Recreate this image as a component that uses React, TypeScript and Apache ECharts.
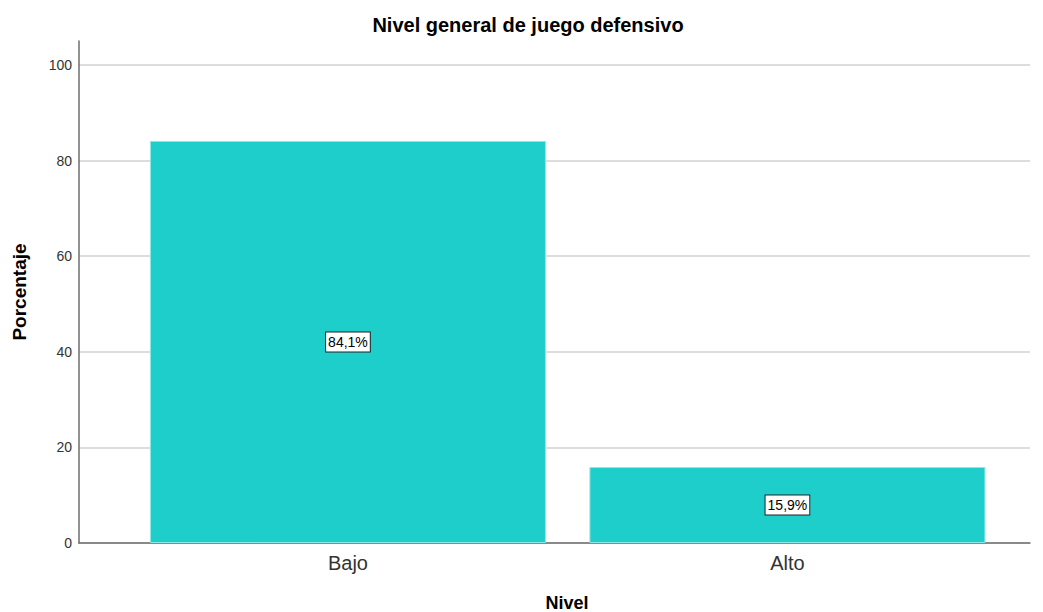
import React, { useEffect, useRef } from "react";
import * as echarts from "echarts";

const categories = ["Bajo", "Alto"];
const values = [84.1, 15.9];
const titleText = "Nivel general de juego defensivo";
const xTitle = "Nivel";
const yTitle = "Porcentaje";

const FONT = "'Liberation Sans', Arial, sans-serif";

export default function App() {
  const ref = useRef<HTMLDivElement>(null);
  useEffect(() => {
    if (!ref.current) return;
    const chart = echarts.init(ref.current, undefined, { renderer: "svg" });
    chart.setOption({
      animation: false,
      backgroundColor: "#ffffff",
      textStyle: { fontFamily: FONT },
      title: [
        {
          text: titleText,
          left: 528,
          top: 15,
          padding: 0,
          textAlign: "center",
          textStyle: { fontFamily: FONT, fontSize: 20, fontWeight: "bold", color: "#000" },
        },
        {
          text: xTitle,
          left: 567,
          top: 594,
          padding: 0,
          textAlign: "center",
          textStyle: { fontFamily: FONT, fontSize: 18, fontWeight: "bold", color: "#000" },
        },
      ],
      grid: { left: 79, top: 41, width: 951, height: 502, containLabel: false },
      xAxis: {
        type: "value",
        min: -0.612,
        max: 1.552,
        axisLine: { show: true, onZero: false, lineStyle: { color: "#6e6e6e", width: 1.5 } },
        axisTick: { show: false },
        splitLine: { show: false },
        axisLabel: {
          customValues: categories.map((_, i) => i),
          formatter: (v: number) => categories[Math.round(v)] ?? "",
          fontSize: 20,
          color: "#333",
          margin: 10,
          fontFamily: FONT,
        },
      },
      yAxis: {
        type: "value",
        min: 0,
        max: 105,
        interval: 20,
        name: yTitle,
        nameLocation: "middle",
        nameGap: 50,
        nameTextStyle: { fontFamily: FONT, fontSize: 19, fontWeight: "bold", color: "#000" },
        axisLine: { show: true, onZero: false, lineStyle: { color: "#6e6e6e", width: 1.5 } },
        axisTick: { show: false },
        axisLabel: {
          showMaxLabel: false,
          fontSize: 14,
          color: "#333",
          margin: 7,
          fontFamily: FONT,
        },
        splitLine: { show: true, showMaxLine: false, lineStyle: { color: "#d2d2d2", width: 1.5 } },
      },
      series: [
        {
          type: "bar",
          barWidth: 396,
          data: categories.map((_, i) => [i, values[i]]),
          itemStyle: { color: "#1ececa", borderColor: "#8fe8e5", borderWidth: 1 },
          label: {
            show: true,
            position: "inside",
            formatter: (p: any) => values[p.dataIndex].toFixed(1).replace(".", ",") + "%",
            color: "#000",
            fontSize: 14,
            fontFamily: FONT,
            backgroundColor: "#ffffff",
            borderColor: "#222",
            borderWidth: 1,
            padding: [3, 2, 2, 2],
          },
        },
      ],
    });
    return () => chart.dispose();
  }, []);
  return (
    <div
      ref={ref}
      style={{ position: "fixed", left: 0, top: 0, width: 1043, height: 612 }}
    />
  );
}
